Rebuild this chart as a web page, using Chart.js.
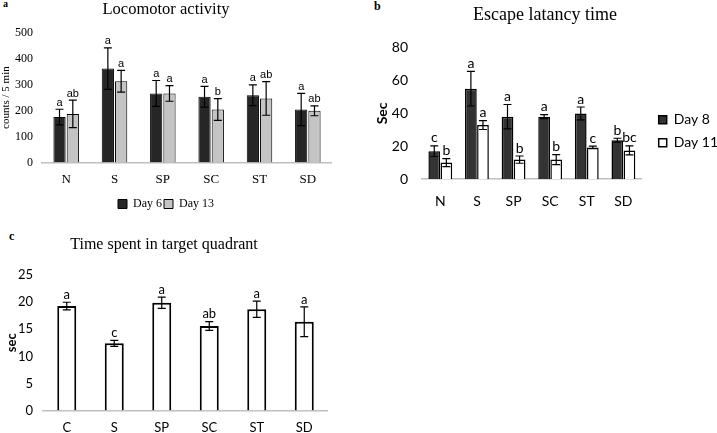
<!DOCTYPE html>
<html>
<head>
<meta charset="utf-8">
<script src="https://cdn.jsdelivr.net/npm/chart.js@4"></script>
<style>
  body { margin:0; background:#fff; width:717px; height:433px; position:relative; overflow:hidden; }
  .panel { position:absolute; }
  .tag { position:absolute; font-family:"Liberation Serif", serif; font-weight:bold; color:#000; }
</style>
</head>
<body>
<div class="tag" style="left:3px; top:-2px; font-size:10px;">a</div>
<div class="tag" style="left:374px; top:-1px; font-size:12px;">b</div>
<div class="tag" style="left:9px; top:229px; font-size:12px;">c</div>
<div class="panel" style="left:0; top:0; width:332px; height:220px;"><canvas id="chartLoco"></canvas></div>
<div class="panel" style="left:362px; top:0; width:355px; height:224px;"><canvas id="chartEscape"></canvas></div>
<div class="panel" style="left:0; top:222px; width:328px; height:224px;"><canvas id="chartTarget"></canvas></div>
<script>
// a: locomotor activity
const locoCats = ['N','S','SP','SC','ST','SD'];
const locoDay6 = [175, 362, 266, 253, 259, 204];
const locoDay6Err = [30, 80, 50, 40, 40, 62];
const locoDay6Sig = ['a','a','a','a','a','a'];
const locoDay13 = [187, 313, 266, 204, 247, 199];
const locoDay13Err = [53, 42, 30, 42, 65, 19];
const locoDay13Sig = ['ab','a','a','b','ab','ab'];

// b: escape latency
const escCats = ['N','S','SP','SC','ST','SD'];
const escDay8 = [17, 55, 38, 38, 40, 23.7];
const escDay8Err = [3.2, 10.5, 7.4, 1.2, 3.9, 1.2];
const escDay8Sig = ['c','a','a','a','a','b'];
const escDay11 = [10.1, 32.9, 11.9, 11.9, 19.3, 17.5];
const escDay11Err = [2.4, 2.7, 2.2, 3.1, 0.8, 2.7];
const escDay11Sig = ['b','a','b','b','c','bc'];

// c: time in target quadrant
const tgtCats = ['C','S','SP','SC','ST','SD'];
const tgtVals = [19.3, 12.4, 19.9, 15.6, 18.7, 16.4];
const tgtErr = [0.7, 0.55, 1.05, 0.8, 1.5, 2.75];
const tgtSig = ['a','c','a','ab','a','a'];

const SERIF = '"Liberation Serif", "Times New Roman", serif';
const SANS = 'Lato, "Open Sans", sans-serif';

// error bars + significance letters, placed through the chart's own scales
const errPlugin = {
  id: 'errBars',
  afterDatasetsDraw(chart, args, opts) {
    const { ctx } = chart;
    const y = chart.scales.y;
    chart.data.datasets.forEach((ds, di) => {
      const meta = chart.getDatasetMeta(di);
      meta.data.forEach((bar, i) => {
        const v = ds.data[i], e = ds.err[i];
        const yt = y.getPixelForValue(v + e), yb = y.getPixelForValue(v - e);
        ctx.save();
        ctx.strokeStyle = '#000'; ctx.lineWidth = 1.2;
        ctx.beginPath();
        ctx.moveTo(bar.x, yt); ctx.lineTo(bar.x, yb);
        ctx.moveTo(bar.x - opts.cap, yt); ctx.lineTo(bar.x + opts.cap, yt);
        ctx.moveTo(bar.x - opts.cap, yb); ctx.lineTo(bar.x + opts.cap, yb);
        ctx.stroke();
        ctx.fillStyle = '#000';
        ctx.font = opts.font;
        ctx.textAlign = 'center'; ctx.textBaseline = 'bottom';
        ctx.fillText(ds.sig[i], bar.x, yt - 1);
        ctx.restore();
      });
    });
  }
};

const noGrid = { display:false, drawTicks:false };
const baseAxis = { display:true, color:'#bfbfbf', width:1.5 };

new Chart(document.getElementById('chartLoco'), {
  type: 'bar',
  data: {
    labels: locoCats,
    datasets: [
      { label:'Day 6', data: locoDay6, err: locoDay6Err, sig: locoDay6Sig, backgroundColor:'#262626', borderColor:'#000', borderWidth:1 },
      { label:'Day 13', data: locoDay13, err: locoDay13Err, sig: locoDay13Sig, backgroundColor:'#c4c4c4', borderColor:'#000', borderWidth:1 }
    ]
  },
  options: {
    responsive:true, maintainAspectRatio:false, animation:false,
    categoryPercentage:0.55, barPercentage:0.92,
    layout:{ padding:0 },
    plugins: {
      title:{ display:true, text:'Locomotor activity', color:'#000', font:{ family:SERIF, size:16.5, weight:'normal' }, padding:{ top:0, bottom:13 } },
      legend:{ position:'bottom',
        labels:{ color:'#000', boxWidth:9, boxHeight:9, padding:2, font:{ family:SERIF, size:12 } } },
      tooltip:{ enabled:false },
      errBars:{ cap:4, font:'11px "Liberation Sans", Arial, sans-serif' }
    },
    scales: {
      x:{ grid:noGrid, border:baseAxis, ticks:{ color:'#000', padding:9, font:{ family:SERIF, size:13 } } },
      y:{ min:0, max:500, grid:noGrid, border:{ display:false },
          ticks:{ stepSize:100, color:'#000', padding:9, font:{ family:SERIF, size:12 } },
          title:{ display:true, text:'counts / 5 min', color:'#000', padding:0, font:{ family:SERIF, size:11 } },
          afterFit: s => { s.width = 42; } }
    }
  },
  plugins:[errPlugin]
});

new Chart(document.getElementById('chartEscape'), {
  type: 'bar',
  data: {
    labels: escCats,
    datasets: [
      { label:'Day 8', data: escDay8, err: escDay8Err, sig: escDay8Sig, backgroundColor:'#333333', borderColor:'#000', borderWidth:1.5 },
      { label:'Day 11', data: escDay11, err: escDay11Err, sig: escDay11Sig, backgroundColor:'#ffffff', borderColor:'#000', borderWidth:1.5 }
    ]
  },
  options: {
    responsive:true, maintainAspectRatio:false, animation:false,
    categoryPercentage:0.66, barPercentage:0.97,
    layout:{ padding:{ left:0, right:-11, top:0, bottom:0 } },
    plugins: {
      title:{ display:true, text:'Escape latancy time', color:'#000', font:{ family:SERIF, size:18, weight:'normal' }, padding:{ top:4, bottom:22 } },
      legend:{ position:'right', maxWidth:120,
        title:{ display:true, text:' ', font:{ size:12 }, padding:{ top:12, bottom:12 } },
        labels:{ color:'#000', boxWidth:8, boxHeight:8, padding:9, font:{ family:SANS, size:14 } } },
      tooltip:{ enabled:false },
      errBars:{ cap:4, font:'14px Lato, sans-serif' }
    },
    scales: {
      x:{ grid:noGrid, border:baseAxis, ticks:{ color:'#000', padding:14, font:{ family:SANS, size:14 } } },
      y:{ min:0, max:80, grid:noGrid, border:{ display:false },
          ticks:{ stepSize:20, color:'#000', padding:14, font:{ family:SANS, size:14 } },
          title:{ display:true, text:'Sec', color:'#000', padding:{ top:12, bottom:0 }, font:{ family:SANS, size:14, weight:'bold' } },
          afterFit: s => { s.width = 60; } },
      // empty spacer between plot and legend
      gap:{ type:'linear', position:'right', display:true, grid:noGrid, border:{ display:false }, ticks:{ display:false },
          afterFit: s => { s.width = 8; } }
    }
  },
  plugins:[errPlugin]
});

new Chart(document.getElementById('chartTarget'), {
  type: 'bar',
  data: {
    labels: tgtCats,
    datasets: [
      { label:'Time', data: tgtVals, err: tgtErr, sig: tgtSig, backgroundColor:'#ffffff', borderColor:'#000', borderWidth:2 }
    ]
  },
  options: {
    responsive:true, maintainAspectRatio:false, animation:false,
    categoryPercentage:1, barPercentage:0.4,
    layout:{ padding:0 },
    plugins: {
      title:{ display:true, text:'Time spent in target quadrant', color:'#000', font:{ family:SERIF, size:16, weight:'normal' }, padding:{ top:13, bottom:21 } },
      legend:{ display:false },
      tooltip:{ enabled:false },
      errBars:{ cap:4, font:'13px Lato, sans-serif' }
    },
    scales: {
      x:{ grid:noGrid, border:baseAxis, ticks:{ color:'#000', padding:10, font:{ family:SANS, size:13 } } },
      y:{ min:0, max:25, grid:noGrid, border:{ display:false },
          ticks:{ stepSize:5, color:'#000', padding:10, font:{ family:SANS, size:13 } },
          title:{ display:true, text:'sec', color:'#000', padding:{ top:4, bottom:0 }, font:{ family:SANS, size:13, weight:'bold' } },
          afterFit: s => { s.width = 43; } }
    }
  },
  plugins:[errPlugin]
});
</script>
</body>
</html>
